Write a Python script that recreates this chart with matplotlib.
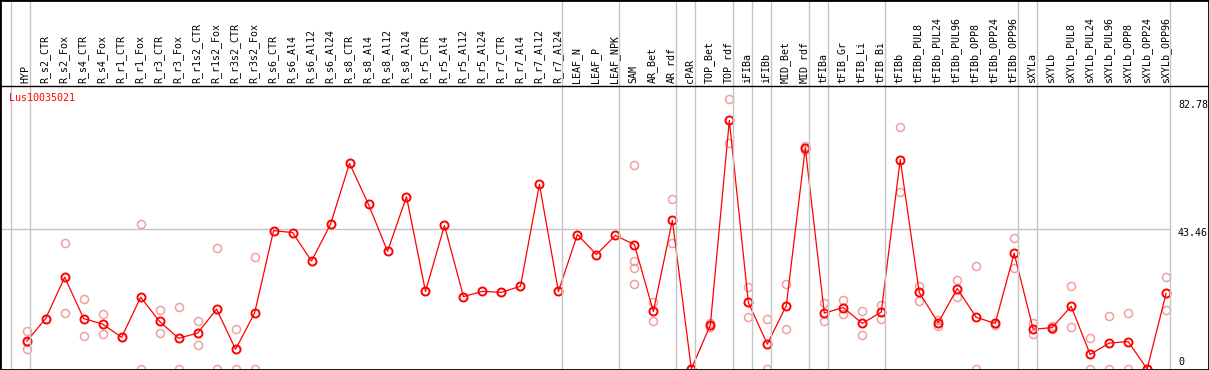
import numpy as np
import matplotlib
matplotlib.use("Agg")
import matplotlib.pyplot as plt
from matplotlib.transforms import blended_transform_factory, ScaledTranslation
from matplotlib.lines import Line2D
from matplotlib.patches import Rectangle

gene = "Lus10035021"

categories = [
    "HYP", "R_s2_CTR", "R_s2_Fox", "R_s4_CTR", "R_s4_Fox", "R_r1_CTR", "R_r1_Fox",
    "R_r3_CTR", "R_r3_Fox", "R_r1s2_CTR", "R_r1s2_Fox", "R_r3s2_CTR", "R_r3s2_Fox",
    "R_s6_CTR", "R_s6_Al4", "R_s6_Al12", "R_s6_Al24", "R_s8_CTR", "R_s8_Al4",
    "R_s8_Al12", "R_s8_Al24", "R_r5_CTR", "R_r5_Al4", "R_r5_Al12", "R_r5_Al24",
    "R_r7_CTR", "R_r7_Al4", "R_r7_Al12", "R_r7_Al24", "LEAF_N", "LEAF_P", "LEAF_NPK",
    "SAM", "AR_Bet", "AR_rdf", "cPAR", "TOP_Bet", "TOP_rdf", "iFIBa", "iFIBb",
    "MID_Bet", "MID_rdf", "tFIBa", "tFIB_Gr", "tFIB_Li", "tFIB_Bi", "tFIBb",
    "tFIBb_PUL8", "tFIBb_PUL24", "tFIBb_PUL96", "tFIBb_OPP8", "tFIBb_OPP24",
    "tFIBb_OPP96", "sXYLa", "sXYLb", "sXYLb_PUL8", "sXYLb_PUL24", "sXYLb_PUL96",
    "sXYLb_OPP8", "sXYLb_OPP24", "sXYLb_OPP96",
]

# group sizes (a grey separator follows each group)
group_sizes = [1, 28, 3, 3, 1, 2, 1, 1, 2, 1, 3, 7, 1, 7]

means = [
    8.6, 15.6, 28.4, 15.6, 13.9, 9.8, 22.2, 14.7, 9.5, 11.1, 18.5, 6.1, 17.3,
    42.8, 42.2, 33.4, 44.8, 63.6, 50.9, 36.4, 53.3, 24.0, 44.4, 22.4, 24.0,
    23.7, 25.6, 57.1, 24.0, 41.6, 35.4, 41.3, 38.5, 17.8, 46.0, 0.0, 13.6,
    76.9, 20.6, 7.7, 19.6, 68.4, 17.3, 19.0, 14.1, 17.6, 64.8, 23.7, 14.3,
    24.9, 16.0, 14.1, 35.8, 12.3, 12.8, 19.4, 4.5, 8.0, 8.5, 0.0, 23.4,
]

nan = np.nan
rep_a = [
    11.7, nan, 39.1, 21.5, 16.9, nan, 44.7, 18.4, 19.1, 14.7, 37.3, 12.3, 34.5,
    nan, nan, nan, nan, nan, nan, nan, nan, nan, nan, nan, nan,
    nan, nan, nan, nan, nan, nan, nan, 63.2, 20.8, 52.7, 0.0, 13.1,
    83.6, 25.5, 15.5, 26.2, 69.1, 20.3, 21.3, 17.9, 19.8, 75.0, 25.8, 15.1,
    27.4, 32.0, 14.3, 40.4, 14.1, 13.3, 25.8, 9.5, 16.3, 17.2, 0.0, 28.6,
]
rep_b = [
    6.1, nan, 17.2, 10.1, 10.7, nan, 0.0, 11.0, 0.0, 7.3, 0.0, 0.0, 0.0,
    nan, nan, nan, nan, nan, nan, nan, nan, nan, nan, nan, nan,
    nan, nan, nan, nan, nan, nan, nan, 33.4, 14.7, 39.0, 0.0, 14.1,
    70.0, 16.0, 0.0, 12.3, 67.7, 14.9, 16.9, 10.5, 15.4, 54.6, 21.1, 13.3,
    22.4, 0.0, 13.7, 31.2, 10.7, 12.3, 12.9, 0.0, 0.0, 0.0, 0.0, 18.1,
]
rep_c = [8.2] + [nan] * 31 + [31.1] + [nan] * 28
rep_d = [nan] * 32 + [26.2] + [nan] * 28

y_ticks = [0, 43.46, 82.78]
grid_value = 43.46

# ---------------------------------------------------------------
W, H = 1209, 370
fig = plt.figure(figsize=(W / 100, H / 100), dpi=100)
fig.patch.set_facecolor("white")

pad_px = 26.7
step_px = 18.99
plot_top_px = 86
plot_bot_px = 369
px_per_unit = (369 - 228.5) / 43.46
ymax = (plot_bot_px - plot_top_px) / px_per_unit

ax = fig.add_axes([0, (H - plot_bot_px) / H, 1, (plot_bot_px - plot_top_px) / H])
ax.set_xlim(-pad_px / step_px, (W - pad_px) / step_px)
ax.set_ylim(0, ymax)
ax.axis("off")

x = np.arange(len(categories))

# separators
bounds = np.cumsum(group_sizes) - 1
sep_x = [-0.84] + [b + 0.195 for b in bounds]
trans_xfig = blended_transform_factory(ax.transData, fig.transFigure)
for sx in sep_x:
    fig.add_artist(Line2D([sx, sx], [0, 1], transform=trans_xfig,
                          color="#c4c4c4", lw=1.0, zorder=1))

# horizontal grid line
ax.hlines(grid_value, ax.get_xlim()[0], sep_x[-1], color="#c4c4c4", lw=1.0, zorder=1)

# replicates
rep_color = "#f0a0a0"
for reps in (rep_a, rep_b, rep_c, rep_d):
    ax.plot(x, reps, ls="none", marker="o", ms=5.8, mfc="none", mec=rep_color,
            mew=1.1, zorder=2)

# means
ax.plot(x, means, color="#ff0000", lw=0.9, marker="o", ms=5.8, mfc="none",
        mec="#ff0000", mew=1.4, zorder=3)

# category labels
font = "DejaVu Sans Mono"
label_y = (H - 83) / H
for xi, cat in zip(x, categories):
    ax.text(xi - 0.05, label_y, cat, transform=trans_xfig, rotation=90,
            ha="center", va="bottom", fontsize=7.2, family=font, color="black",
            clip_on=False)

# right-hand value labels
trans_axy = blended_transform_factory(ax.transAxes, ax.transData)
xl = 1178 / W
for v in y_ticks:
    if v == 0:
        off = ScaledTranslation(0, 2 / 100, fig.dpi_scale_trans)
        ax.text(xl, v, "0", transform=trans_axy + off, ha="left", va="bottom",
                fontsize=7.2, family=font, clip_on=False)
    else:
        off = ScaledTranslation(0, -4 / 100, fig.dpi_scale_trans)
        ax.text(xl, v, f"{v:.2f}", transform=trans_axy + off, ha="left",
                va="center", fontsize=7.2, family=font, clip_on=False)

# gene name
fig.text(9.5 / W, (H - 97.7) / H, gene, color="#ff0000", fontsize=7.2,
         family=font, ha="left", va="center")

# header separator and border
fig.add_artist(Line2D([0, 1], [(H - 85.5) / H] * 2, transform=fig.transFigure,
                      color="black", lw=1.0))
fig.add_artist(Rectangle((0, 0), 1, 1, transform=fig.transFigure, fill=False,
                         edgecolor="black", lw=2.0))

fig.savefig("out.png", dpi=100)
